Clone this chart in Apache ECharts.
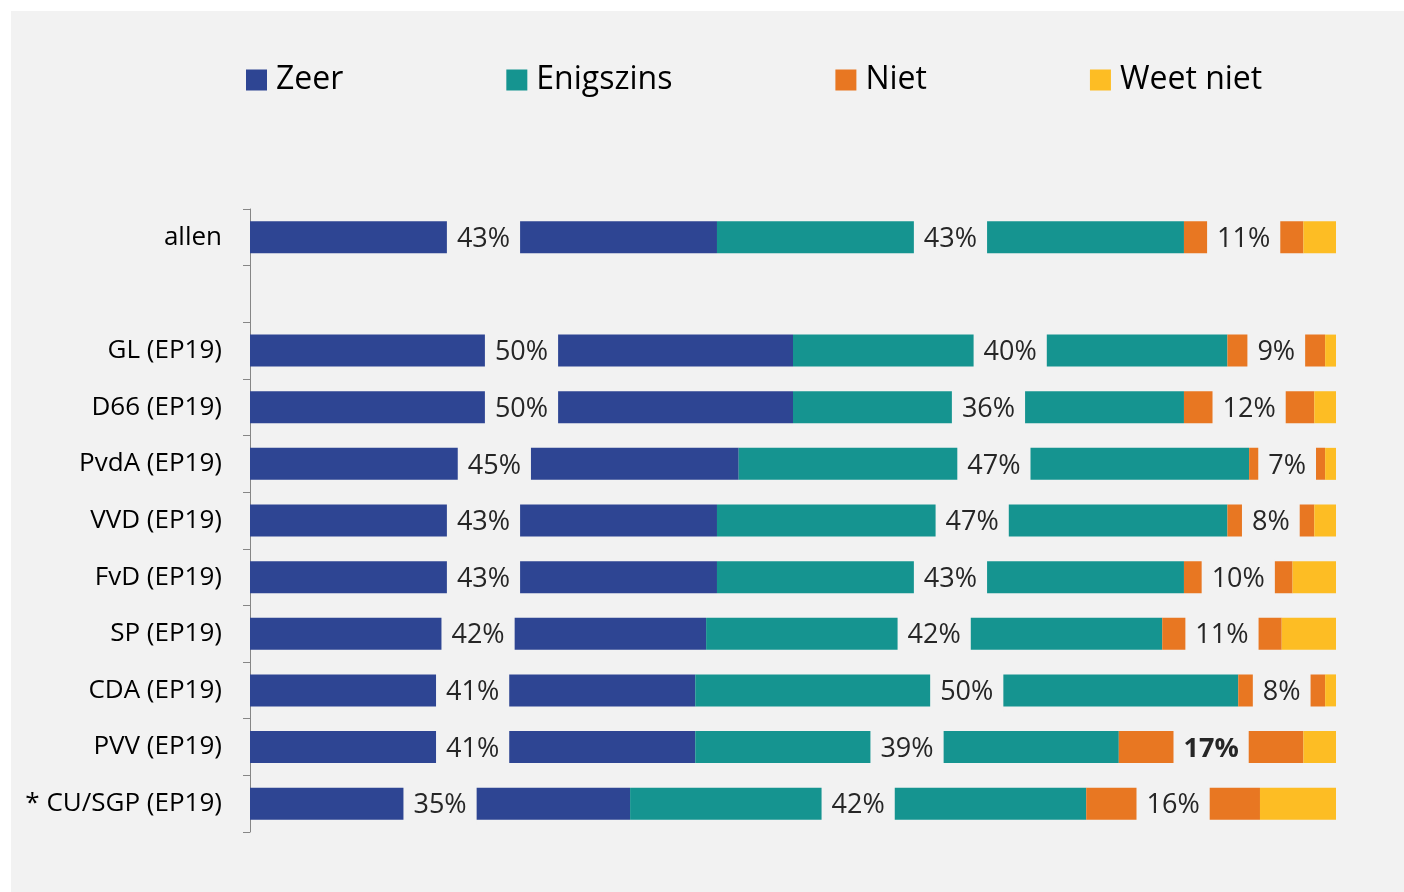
<!DOCTYPE html>
<html>
<head>
<meta charset="utf-8">
<script src="https://cdn.jsdelivr.net/npm/echarts@6/dist/echarts.min.js"></script>
<style>
  html, body { margin: 0; padding: 0; background: #fff; }
  #panel { position: absolute; left: 11px; top: 11px; width: 1393px; height: 881px; background: #f2f2f2; }
</style>
</head>
<body>
<div id="panel"></div>
<script>
// categorieen (van boven naar beneden), lege rij tussen "allen" en de partijen
const categories = ['allen', '', 'GL (EP19)', 'D66 (EP19)', 'PvdA (EP19)', 'VVD (EP19)',
  'FvD (EP19)', 'SP (EP19)', 'CDA (EP19)', 'PVV (EP19)', '* CU/SGP (EP19)'];
const zeer      = [43, null, 50, 50, 45, 43, 43, 42, 41, 41, 35];
const enigszins = [43, null, 40, 36, 47, 47, 43, 42, 50, 39, 42];
const niet      = [11, null, 9, 12, 7, 8, 10, 11, 8, 17, 16];
const weetNiet  = [3, null, 1, 2, 1, 2, 4, 5, 1, 3, 7];
const boldIndex = 9; // PVV niet = 17% vet

const names = ['Zeer', 'Enigszins', 'Niet', 'Weet niet'];
const colors = ['#2e4593', '#159490', '#e87722', '#fdbd24'];
const FONT = 'Open Sans';

const chart = echarts.init(document.getElementById('panel'));

function segLabel(show) {
  return {
    show: show,
    position: 'inside',
    offset: [0, 2],
    formatter: p => p.value == null ? '' : p.value + '%',
    fontFamily: FONT,
    fontSize: 27,
    color: '#262626',
    backgroundColor: '#f2f2f2',
    padding: [6, 10, 4, 10],
    lineHeight: 30
  };
}

function makeSeries(name, values, idx) {
  const data = values.map((v, i) => {
    if (idx === 2 && i === boldIndex) {
      return { value: v, label: { fontWeight: 'bold' } };
    }
    return v;
  });
  return {
    name: name,
    type: 'bar',
    stack: 'totaal',
    barWidth: 32,
    itemStyle: { color: colors[idx] },
    label: segLabel(idx < 3),
    emphasis: { disabled: true },
    data: data
  };
}

const option = {
  animation: false,
  backgroundColor: '#f2f2f2',
  legend: {
    left: 230,
    top: 48,
    itemWidth: 21,
    itemHeight: 21,
    itemGap: 163,
    icon: 'rect',
    textStyle: { fontFamily: FONT, fontSize: 32, color: '#000', padding: [0, 0, 0, 4] },
    data: names
  },
  grid: { left: 239, right: 68, top: 198, bottom: 60 },
  xAxis: { type: 'value', min: 0, max: 100, show: false },
  yAxis: {
    type: 'category',
    inverse: true,
    data: categories,
    axisLine: { show: true, lineStyle: { color: '#868686', width: 1 } },
    axisTick: { show: true, length: 7, interval: 0, lineStyle: { color: '#868686' } },
    axisLabel: { fontFamily: FONT, fontSize: 26, color: '#000', margin: 28, interval: 0 }
  },
  series: [
    makeSeries(names[0], zeer, 0),
    makeSeries(names[1], enigszins, 1),
    makeSeries(names[2], niet, 2),
    makeSeries(names[3], weetNiet, 3)
  ]
};

chart.setOption(option);
</script>
</body>
</html>
